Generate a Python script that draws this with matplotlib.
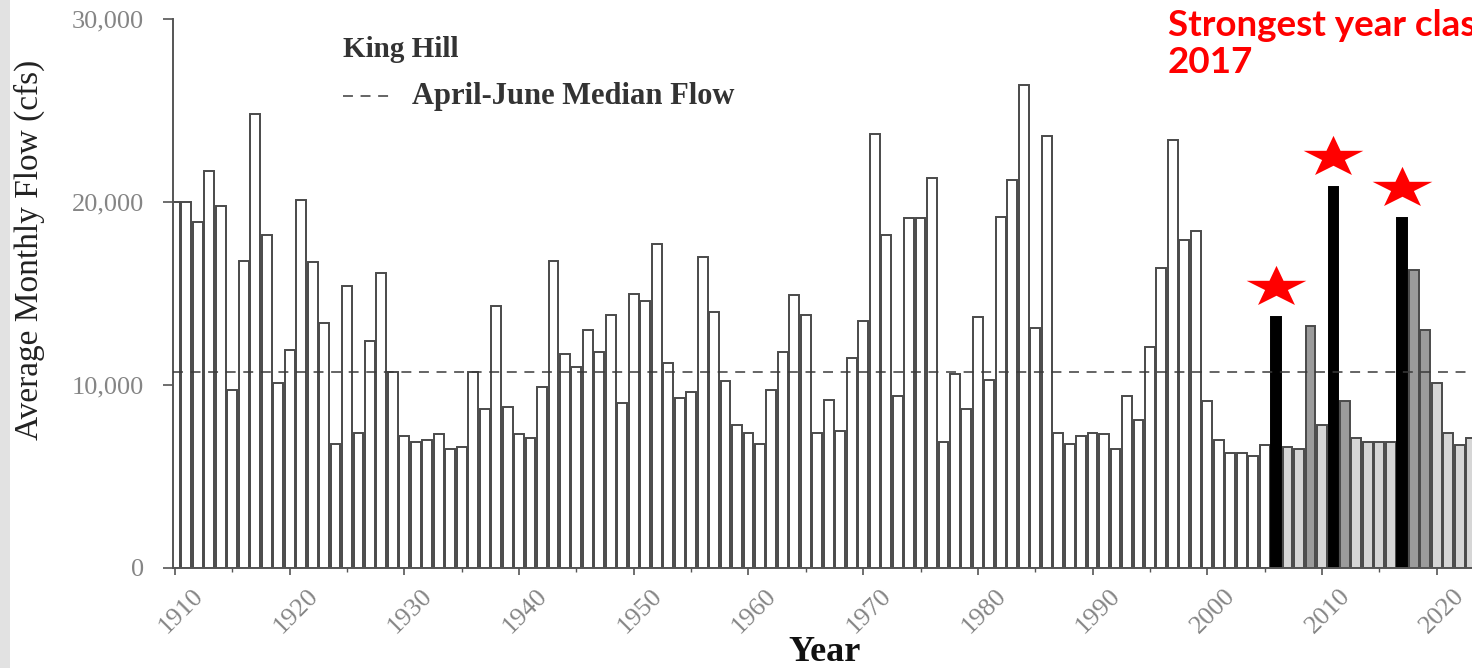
import numpy as np
import matplotlib
matplotlib.use("Agg")
import matplotlib.pyplot as plt
from matplotlib.path import Path
from matplotlib.lines import Line2D
from matplotlib.patches import Rectangle
from matplotlib.transforms import ScaledTranslation
from matplotlib.ticker import MultipleLocator, FixedLocator, FuncFormatter

# Average April-June flow at King Hill, one value per year starting 1910 (cfs)
first_year = 1910
flow_cfs = [
    20000, 20000, 18900, 21700, 19800, 9700, 16800, 24800, 18200, 10100,   # 1910s
    11900, 20100, 16700, 13400, 6800, 15400, 7400, 12400, 16100, 10700,    # 1920s
    7200, 6900, 7000, 7300, 6500, 6600, 10700, 8700, 14300, 8800,          # 1930s
    7300, 7100, 9900, 16800, 11700, 11000, 13000, 11800, 13800, 9000,      # 1940s
    15000, 14600, 17700, 11200, 9300, 9600, 17000, 14000, 10200, 7800,     # 1950s
    7400, 6800, 9700, 11800, 14900, 13800, 7400, 9200, 7500, 11500,        # 1960s
    13500, 23700, 18200, 9400, 19100, 19100, 21300, 6900, 10600, 8700,     # 1970s
    13700, 10300, 19200, 21200, 26400, 13100, 23600, 7400, 6800, 7200,     # 1980s
    7400, 7300, 6500, 9400, 8100, 12100, 16400, 23400, 17900, 18400,       # 1990s
    9100, 7000, 6300, 6300, 6100, 6700, 13700, 6600, 6500, 13200,          # 2000s
    7800, 20800, 9100, 7100, 6900, 6900, 6900, 19100, 16300, 13000,        # 2010s
    10100, 7400, 6700, 7100,                                               # 2020s
]
years = first_year + np.arange(len(flow_cfs))

median_flow = 10700
highlight_years = [2006, 2011, 2017]
dark_years = [2009, 2012, 2018, 2019]
shaded_from = 2007

y_ticks = [0, 10000, 20000, 30000]
x_major_ticks = [1910, 1920, 1930, 1940, 1950, 1960, 1970, 1980, 1990, 2000, 2010, 2020]

legend_title = "King Hill"
legend_label = "April-June Median Flow"
note_text = "Strongest year classes 2006, 2011 and\n2017"

W, H = 1472, 668
fig = plt.figure(figsize=(W / 100, H / 100), dpi=100)
fig.patches.append(Rectangle((0, 0), 10 / W, 1, transform=fig.transFigure,
                             facecolor="#e2e2e2", edgecolor="none", zorder=-5))

ax = fig.add_axes([173 / W, (H - 568) / H, (W - 173) / W, 549 / H])

serif = ["Liberation Serif", "DejaVu Serif"]
edge = "#4a4a4a"

fills, edges = [], []
for yr in years:
    if yr in highlight_years:
        fills.append("black"); edges.append("black")
    elif yr in dark_years:
        fills.append("#9b9b9b"); edges.append(edge)
    elif yr >= shaded_from:
        fills.append("#d6d6d6"); edges.append(edge)
    else:
        fills.append("white"); edges.append(edge)

ax.bar(years, flow_cfs, width=0.86, color=fills, edgecolor=edges, linewidth=1.4, zorder=2)
ax.axhline(median_flow, color="#3a3a3a", lw=1.1, linestyle=(0, (6.5, 5)), zorder=3)

# star marker, drawn a little wider than tall
ang = np.deg2rad(90 + 36 * np.arange(10))
rad = np.where(np.arange(10) % 2 == 0, 1.0, 0.382)
star_xy = np.column_stack([1.45 * rad * np.cos(ang), rad * np.sin(ang)])
star_xy = np.vstack([star_xy, star_xy[:1]])
star = Path(star_xy, [Path.MOVETO] + [Path.LINETO] * 9 + [Path.CLOSEPOLY])
flow_by_year = dict(zip(years.tolist(), flow_cfs))
ax.plot(highlight_years, [flow_by_year[y] + 1650 for y in highlight_years],
        ls="none", marker=star, ms=43, color="#ff0000", mec="none", clip_on=False, zorder=5)

ax.set_xlim(1909.83, 2023.08)
ax.set_ylim(0, 30000)
for s in ["top", "right"]:
    ax.spines[s].set_visible(False)
for s in ["left", "bottom"]:
    ax.spines[s].set_color("#555555")
    ax.spines[s].set_linewidth(1.4)

ax.yaxis.set_major_locator(FixedLocator(y_ticks))
ax.yaxis.set_major_formatter(FuncFormatter(lambda v, p: f"{int(v):,}"))
ax.xaxis.set_major_locator(FixedLocator(x_major_ticks))
ax.xaxis.set_minor_locator(MultipleLocator(5))
ax.tick_params(axis="y", length=7, width=1.2, color="#555555", pad=14,
               labelsize=19, labelcolor="#858585")
ax.tick_params(axis="x", which="major", length=5, width=1.2, color="#555555", pad=7,
               labelsize=19, labelcolor="#858585")
ax.tick_params(axis="x", which="minor", length=3, width=1.0, color="#555555")
for lab in ax.get_yticklabels():
    lab.set_fontfamily(serif)
shift = ScaledTranslation(6 / 100, 0, fig.dpi_scale_trans)
for lab in ax.get_xticklabels():
    lab.set_fontfamily(serif)
    lab.set_rotation(45)
    lab.set_ha("center")
    lab.set_transform(lab.get_transform() + shift)

ax.set_ylabel("Average Monthly Flow (cfs)", fontfamily=serif, fontsize=24, color="#222222")
ax.yaxis.set_label_coords((45 - 173) / 1299, (568 - 250) / 549)
ax.set_xlabel("Year", fontfamily=serif, fontsize=26, fontweight="bold", color="#111111")
ax.xaxis.set_label_coords((825 - 173) / 1299, (568 - 636) / 549)

# legend block
fig.text(343 / W, 1 - 57 / H, legend_title, fontfamily=serif, fontsize=21,
         fontweight="bold", color="#333333", va="baseline")
fig.add_artist(Line2D([343 / W, 389 / W], [1 - 96 / H] * 2, transform=fig.transFigure,
                      color="#3a3a3a", lw=1.1, linestyle=(0, (6.5, 5))))
fig.text(412 / W, 1 - 104 / H, legend_label, fontfamily=serif, fontsize=22,
         fontweight="bold", color="#333333", va="baseline")

fig.text(1168 / W, 1 - 9 / H, note_text, fontfamily=["Lato", "DejaVu Sans"], fontsize=26.5,
         fontweight="bold", color="#ff0000", va="top", ha="left", linespacing=1.13)

fig.savefig("out.png", dpi=100)
